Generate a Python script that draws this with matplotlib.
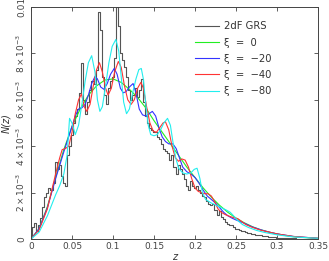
import numpy as np
import matplotlib
matplotlib.use("Agg")
import matplotlib.pyplot as plt

# ---- data (N values in units of 1e-3) ----
z_grs = np.round(np.arange(0, 0.35001, 0.0025), 4)
n_grs = [0.1, 0.5, 0.7, 0.35, 0.6, 0.9, 1.4, 1.8, 2.0, 2.2, 2.1, 2.4, 3.3, 3.0, 3.2, 2.7,
         2.4, 2.3, 3.6, 4.0, 4.5, 5.0, 5.3, 5.6, 6.3, 7.6, 6.0, 5.4, 5.9, 6.4, 6.8, 6.7,
         7.3, 9.8, 9.0, 7.0, 6.2, 5.8, 6.5, 6.8, 7.0, 7.8, 10.0, 9.2, 8.0, 7.7, 7.4, 7.0,
         6.4, 6.0, 6.2, 6.5, 6.1, 6.4, 6.9, 5.9, 5.3, 5.0, 4.8, 4.7, 4.6, 4.6, 4.4, 4.3,
         4.1, 3.9, 3.8, 3.7, 3.4, 3.6, 3.1, 2.8, 3.2, 3.0, 2.8, 2.6, 2.3, 2.1, 2.5, 2.3,
         2.2, 2.3, 2.1, 2.0, 1.85, 1.8, 1.65, 1.5, 1.45, 1.5, 1.25, 1.05, 1.2, 0.95, 0.85,
         0.75, 0.65, 0.6, 0.62, 0.5, 0.45, 0.42, 0.4, 0.36, 0.33, 0.3, 0.27, 0.25, 0.22,
         0.2, 0.19, 0.17, 0.16, 0.14, 0.13, 0.12, 0.1, 0.09, 0.08, 0.07, 0.06, 0.055, 0.05,
         0.045, 0.04, 0.035, 0.03, 0.028, 0.025, 0.022, 0.02, 0.018, 0.015, 0.012, 0.01,
         0.008, 0.006, 0.004, 0.003, 0.002, 0.001]

z_xi0 = [0, 0.01, 0.02, 0.03, 0.04, 0.05, 0.06, 0.07, 0.08, 0.09, 0.10, 0.11, 0.12, 0.13,
         0.14, 0.15, 0.16, 0.17, 0.18, 0.19, 0.20, 0.21, 0.22, 0.23, 0.24, 0.25, 0.26,
         0.27, 0.28, 0.29, 0.30, 0.31, 0.32, 0.33, 0.34, 0.35]
n_xi0 = [0, 0.45, 1.4, 2.65, 3.85, 4.85, 5.6, 6.2, 6.6, 6.85, 6.9, 6.75, 6.45, 6.1,
         5.65, 5.1, 4.6, 4.1, 3.6, 3.1, 2.65, 2.2, 1.8, 1.45, 1.15, 0.9, 0.7,
         0.53, 0.4, 0.3, 0.22, 0.15, 0.1, 0.07, 0.05, 0.03]

z_xi20 = [0, 0.01, 0.02, 0.03, 0.04, 0.045, 0.05, 0.054, 0.058, 0.062, 0.066, 0.07, 0.074,
          0.078, 0.081, 0.085, 0.089, 0.093, 0.097, 0.1015, 0.105, 0.109, 0.1125, 0.116,
          0.12, 0.1245, 0.128, 0.132, 0.136, 0.14, 0.144, 0.148, 0.152, 0.156, 0.16, 0.164,
          0.168, 0.173, 0.177, 0.181, 0.185, 0.19, 0.195, 0.2, 0.205, 0.21, 0.215, 0.22,
          0.225, 0.23, 0.235, 0.24, 0.245, 0.25, 0.26, 0.27, 0.28, 0.29, 0.3, 0.32, 0.35]
n_xi20 = [0, 0.45, 1.35, 2.6, 3.75, 4.3, 4.85, 5.3, 5.6, 5.65, 5.8, 6.2, 6.7,
          7.0, 6.9, 6.55, 6.45, 6.7, 7.1, 7.35, 7.1, 6.5, 6.3, 6.35,
          6.55, 6.7, 6.3, 5.6, 5.35, 5.3, 5.4, 5.5, 5.3, 4.8, 4.4, 4.2,
          4.1, 4.1, 3.9, 3.5, 3.1, 2.9, 2.8, 2.65, 2.4, 2.1, 1.85, 1.7,
          1.55, 1.35, 1.15, 1.0, 0.9, 0.82, 0.68, 0.52, 0.4, 0.3, 0.22, 0.11, 0.03]

z_xi40 = [0, 0.01, 0.02, 0.03, 0.035, 0.038, 0.042, 0.046, 0.05, 0.054, 0.058, 0.0615,
          0.065, 0.068, 0.072, 0.076, 0.08, 0.0835, 0.087, 0.091, 0.094, 0.098, 0.102,
          0.1065, 0.11, 0.114, 0.118, 0.122, 0.126, 0.13, 0.134, 0.137, 0.141, 0.145,
          0.149, 0.153, 0.157, 0.161, 0.164, 0.168, 0.172, 0.176, 0.18, 0.184, 0.188,
          0.192, 0.196, 0.2, 0.204, 0.208, 0.212, 0.216, 0.22, 0.224, 0.228, 0.232,
          0.237, 0.242, 0.247, 0.252, 0.257, 0.262, 0.27, 0.28, 0.29, 0.3, 0.32, 0.35]
n_xi40 = [0, 0.4, 1.3, 2.8, 3.5, 3.85, 3.9, 4.0, 4.6, 5.4, 6.0, 6.25,
          5.7, 5.5, 5.8, 6.6, 7.3, 7.6, 7.2, 6.5, 6.2, 6.5, 7.2,
          7.65, 7.4, 6.6, 6.0, 5.8, 6.0, 6.5, 6.75, 6.5, 5.7, 5.0,
          4.65, 4.6, 4.8, 5.0, 5.05, 4.7, 4.0, 3.5, 3.35, 3.45, 3.4,
          3.1, 2.6, 2.2, 2.05, 2.0, 1.95, 1.95, 1.85, 1.6, 1.3, 1.15,
          1.05, 0.98, 0.92, 0.88, 0.75, 0.62, 0.5, 0.38, 0.3, 0.22, 0.11, 0.03]

z_xi80 = [0, 0.01, 0.02, 0.03, 0.035, 0.04, 0.044, 0.047, 0.05, 0.054, 0.058, 0.062,
          0.066, 0.07, 0.074, 0.078, 0.081, 0.084, 0.087, 0.091, 0.095, 0.099, 0.1035,
          0.107, 0.11, 0.113, 0.1165, 0.12, 0.124, 0.128, 0.1315, 0.1345, 0.137, 0.14,
          0.143, 0.146, 0.15, 0.154, 0.158, 0.162, 0.1665, 0.17, 0.173, 0.1765, 0.18,
          0.185, 0.19, 0.195, 0.199, 0.2025, 0.206, 0.209, 0.213, 0.22, 0.226, 0.232,
          0.238, 0.243, 0.247, 0.252, 0.258, 0.265, 0.275, 0.285, 0.3, 0.32, 0.35]
n_xi80 = [0, 0.3, 1.0, 1.9, 2.3, 2.8, 3.6, 5.2, 5.0, 4.5, 4.9, 5.8,
          6.8, 7.6, 7.9, 7.2, 6.0, 5.5, 5.7, 6.6, 7.6, 8.3, 8.6,
          8.1, 7.0, 5.9, 5.4, 5.6, 6.3, 6.9, 7.3, 7.35, 6.9, 5.8,
          4.9, 4.5, 4.45, 4.5, 4.7, 5.0, 5.2, 4.9, 4.2, 3.5, 3.05,
          2.85, 2.8, 2.85, 3.0, 3.05, 2.6, 2.0, 1.7, 1.55, 1.45, 1.35,
          1.25, 1.15, 1.0, 0.8, 0.62, 0.5, 0.37, 0.28, 0.18, 0.09, 0.03]

x_ticks = [0, 0.05, 0.1, 0.15, 0.2, 0.25, 0.3, 0.35]
x_ticklabels = ["0", "0.05", "0.1", "0.15", "0.2", "0.25", "0.3", "0.35"]
y_ticks = [0, 0.002, 0.004, 0.006, 0.008, 0.01]
y_ticklabels = ["0", r"$2\times10^{-3}$", r"$4\times10^{-3}$", r"$6\times10^{-3}$",
                r"$8\times10^{-3}$", "0.01"]
labels = ["2dF GRS", "ξ  =  0", "ξ  =  −20", "ξ  =  −40", "ξ  =  −80"]

scale = 1e-3
plt.rcParams["font.family"] = ["DejaVu Sans"]
plt.rcParams["mathtext.fontset"] = "dejavusans"

fig = plt.figure(figsize=(3.29, 2.61), dpi=100)
ax = fig.add_axes([0.0942, 0.0843, 0.8724, 0.889])

lw = 0.8
ax.plot(z_grs, np.array(n_grs) * scale, color="#555555", lw=lw, drawstyle="steps-mid",
        label=labels[0])
ax.plot(z_xi0, np.array(n_xi0) * scale, color="#22ee22", lw=lw, label=labels[1])
ax.plot(z_xi20, np.array(n_xi20) * scale, color="#3333ff", lw=lw, label=labels[2])
ax.plot(z_xi40, np.array(n_xi40) * scale, color="#ff3333", lw=lw, label=labels[3])
ax.plot(z_xi80, np.array(n_xi80) * scale, color="#22eeee", lw=lw, label=labels[4])

ax.set_xlim(0, 0.35)
ax.set_ylim(0, 0.01)
ax.set_xticks(x_ticks)
ax.set_xticklabels(x_ticklabels)
ax.set_yticks(y_ticks)
ax.set_yticklabels(y_ticklabels, rotation=90, va="center")
ax.tick_params(direction="in", top=True, right=True, length=3, width=0.6,
               labelsize=6.5, colors="#444444")
ax.tick_params(axis="x", pad=2)
ax.tick_params(axis="y", pad=3)
for s in ax.spines.values():
    s.set_color("#444444")
    s.set_linewidth(0.7)

ax.set_xlabel("z", style="italic", fontsize=7, color="#333333")
ax.xaxis.set_label_coords(0.5, -0.058)
ax.set_ylabel("N(z)", style="italic", fontsize=7, color="#333333", labelpad=2)

leg = ax.legend(loc="upper left", frameon=False, fontsize=7.2, handlelength=2.4,
                handletextpad=0.45, labelspacing=0.62, borderaxespad=0, borderpad=0,
                bbox_to_anchor=(0.572, 0.938))
for t in leg.get_texts():
    t.set_color("#333333")

fig.savefig("out.png", dpi=100)
